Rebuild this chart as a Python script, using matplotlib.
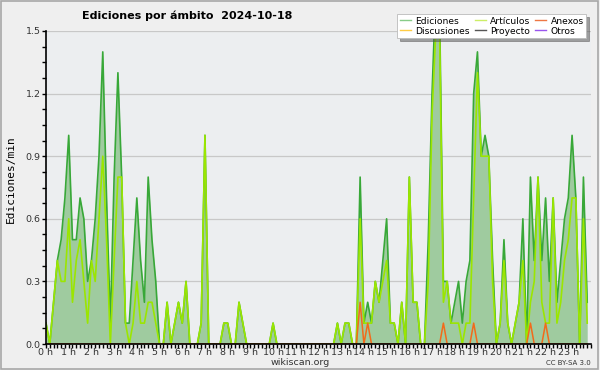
import numpy as np
import matplotlib
matplotlib.use('Agg')
import matplotlib.pyplot as plt
from matplotlib.lines import Line2D
from matplotlib.patches import Rectangle
from matplotlib.ticker import MultipleLocator

# edits per minute, 10-minute bins over the day (144 bins)
ediciones = [
    0.1, 0, 0.2, 0.4, 0.5, 0.7, 1.0, 0.5, 0.5, 0.7, 0.6, 0.3,
    0.4, 0.6, 0.9, 1.4, 0.7, 0.1, 0.8, 1.3, 0.8, 0.1, 0.1, 0.4,
    0.7, 0.4, 0.2, 0.8, 0.5, 0.3, 0, 0, 0.2, 0, 0.1, 0.2,
    0.1, 0.3, 0, 0, 0, 0.1, 1.0, 0, 0, 0, 0, 0.1,
    0.1, 0, 0, 0.2, 0.1, 0, 0, 0, 0, 0, 0, 0,
    0.1, 0, 0, 0, 0, 0, 0, 0, 0, 0, 0, 0,
    0, 0, 0, 0, 0, 0.1, 0, 0.1, 0.1, 0, 0, 0.8,
    0.1, 0.2, 0.1, 0.3, 0.2, 0.4, 0.6, 0.1, 0.1, 0, 0.2, 0,
    0.8, 0.2, 0.2, 0, 0, 0.5, 1.2, 1.7, 1.6, 0.3, 0.3, 0.1,
    0.2, 0.3, 0.1, 0.3, 0.4, 1.2, 1.4, 0.9, 1.0, 0.9, 0.4, 0,
    0.1, 0.5, 0.1, 0, 0.1, 0.2, 0.6, 0, 0.8, 0.4, 0.8, 0.4,
    0.7, 0.3, 0.7, 0.2, 0.4, 0.6, 0.7, 1.0, 0.7, 0, 0.8, 0.2,
]
articulos = [
    0.1, 0, 0.2, 0.4, 0.3, 0.3, 0.6, 0.2, 0.4, 0.5, 0.3, 0.1,
    0.4, 0.3, 0.6, 0.9, 0.5, 0, 0.4, 0.8, 0.8, 0.1, 0, 0.1,
    0.3, 0.1, 0.1, 0.2, 0.2, 0.1, 0, 0, 0.2, 0, 0.1, 0.2,
    0.1, 0.3, 0, 0, 0, 0.1, 1.0, 0, 0, 0, 0, 0.1,
    0.1, 0, 0, 0.2, 0.1, 0, 0, 0, 0, 0, 0, 0,
    0.1, 0, 0, 0, 0, 0, 0, 0, 0, 0, 0, 0,
    0, 0, 0, 0, 0, 0.1, 0, 0.1, 0.1, 0, 0, 0.6,
    0.1, 0.1, 0.1, 0.3, 0.2, 0.3, 0.4, 0.1, 0.1, 0, 0.2, 0,
    0.8, 0.2, 0.2, 0, 0, 0.3, 1.1, 1.5, 1.5, 0.2, 0.3, 0.1,
    0.1, 0.1, 0, 0.1, 0.1, 0.7, 1.3, 0.9, 0.9, 0.9, 0.3, 0,
    0.1, 0.4, 0.1, 0, 0.1, 0.2, 0.4, 0, 0.2, 0.3, 0.8, 0.2,
    0.1, 0.1, 0.7, 0.1, 0.2, 0.4, 0.5, 0.7, 0.7, 0, 0.6, 0.1,
]
anexos = [0] * 144
for i, v in [(83, 0.2), (85, 0.1), (105, 0.1), (113, 0.1), (128, 0.1), (132, 0.1)]:
    anexos[i] = v
discusiones = [0] * 144
proyecto = [0] * 144
otros = [0] * 144

hours = np.arange(144) / 6.0
hour_labels = ['%d h' % h for h in range(24)]

fig = plt.figure(figsize=(6, 3.7), dpi=100)
fig.patch.set_facecolor('#efefef')
fig.patches.append(Rectangle((0.002, 0.003), 0.995, 0.994, transform=fig.transFigure,
                             fill=False, edgecolor='#a8a8a8', lw=1.2))

ax = fig.add_axes([46 / 600, 1 - 344 / 370, 545 / 600, 313 / 370])
ax.set_facecolor('#eceef0')

ax.fill_between(hours, ediciones, color='#9fcb9f', lw=0, zorder=2)
ax.plot(hours, discusiones, color='#ffcc33', lw=1, zorder=2)
ax.plot(hours, proyecto, color='#555555', lw=1, zorder=2)
ax.plot(hours, otros, color='#9944ee', lw=1, zorder=2)
ax.plot(hours, ediciones, color='#38a838', lw=1.2, zorder=3)
ax.plot(hours, articulos, color='#9be600', lw=1.2, zorder=4)
ax.plot(hours, anexos, color='#f26a1b', lw=1.1, zorder=5)

ax.set_xlim(0, 24)
ax.set_ylim(0, 1.5)
ax.set_yticks(np.arange(0, 1.51, 0.3))
ax.set_yticklabels(['%.1f' % v for v in np.arange(0, 1.51, 0.3)])
ax.yaxis.set_minor_locator(MultipleLocator(0.075))
ax.set_xticks(range(24))
ax.set_xticklabels(hour_labels)
ax.xaxis.set_minor_locator(MultipleLocator(1 / 6))
ax.tick_params(axis='both', which='major', labelsize=6.8, length=3, width=1,
               colors='black', labelcolor='#333333')
ax.tick_params(axis='x', which='major', pad=0)
ax.tick_params(axis='y', which='major', pad=1)
ax.tick_params(axis='both', which='minor', length=3, width=1)
ax.grid(axis='y', color='#c8c8c8', lw=0.9, zorder=1)
ax.set_axisbelow(True)
for s in ('top', 'right'):
    ax.spines[s].set_visible(False)
for s in ('left', 'bottom'):
    ax.spines[s].set_linewidth(1.2)
    ax.spines[s].set_zorder(6)

fig.text(0.018, 0.515, 'Ediciones/min', rotation=90, ha='center', va='center',
         fontsize=8, family='DejaVu Sans Mono')
fig.text(0.312, 0.958, 'Ediciones por ámbito  2024-10-18', ha='center', va='center',
         fontsize=8, fontweight='bold')
fig.text(0.5, 0.02, 'wikiscan.org', ha='center', va='center', fontsize=6.8, color='#333333')
fig.text(0.948, 0.02, 'CC BY-SA 3.0', ha='center', va='center', fontsize=5, color='#333333')

handles = [
    Line2D([], [], color='#88cc88', lw=1),
    Line2D([], [], color='#ffcc44', lw=1),
    Line2D([], [], color='#ccee66', lw=1),
    Line2D([], [], color='#555555', lw=1),
    Line2D([], [], color='#ee7744', lw=1),
    Line2D([], [], color='#9955ee', lw=1),
]
labels = ['Ediciones', 'Discusiones', 'Artículos', 'Proyecto', 'Anexos', 'Otros']
leg = fig.legend(handles, labels, ncol=3, loc='upper right',
                 bbox_to_anchor=(0.985, 0.975), fontsize=6.6, frameon=True,
                 fancybox=False, shadow=True, handlelength=1.2, handletextpad=0.5,
                 columnspacing=0.5, labelspacing=0.1, borderpad=0.3)
leg.get_frame().set_edgecolor('#bbbbbb')
leg.get_frame().set_linewidth(0.6)
leg.set_zorder(10)

fig.savefig('out.png', dpi=100, facecolor=fig.get_facecolor())
